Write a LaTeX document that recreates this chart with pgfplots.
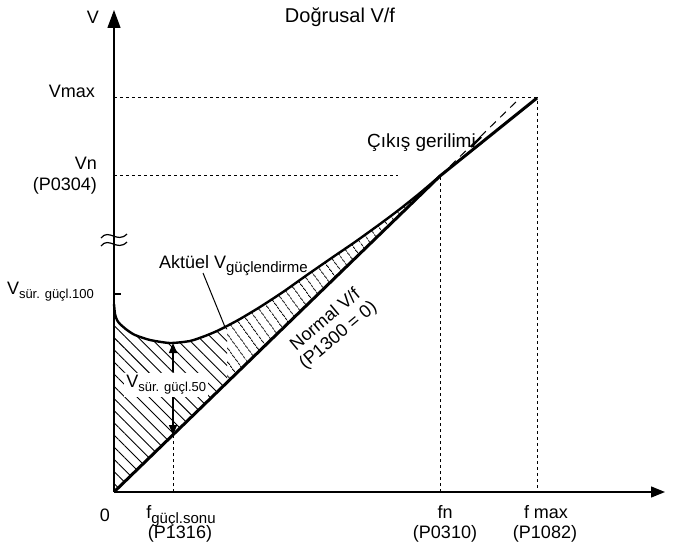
\documentclass[border=0pt]{standalone}
\usepackage{fontspec}
\setmainfont{Liberation Sans}
\usepackage{pgfplots}
\pgfplotsset{compat=1.18}
\usetikzlibrary{arrows.meta,patterns.meta}
\newcommand\sub[1]{\raisebox{-0.45ex}{\fontsize{7.5}{8}\selectfont #1}}
\newcommand\subs[1]{\raisebox{-0.45ex}{\fontsize{6.5}{7}\selectfont #1}}

\begin{document}
\begin{tikzpicture}[font=\fontsize{9}{11}\selectfont]
\begin{axis}[
  x=0.5pt, y=0.5pt,
  xmin=0, xmax=551, ymin=0, ymax=482,
  axis lines=left,
  ticks=none,
  clip=false,
  axis line style={line width=0.65pt},
  every outer x axis line/.append style={-{Triangle[length=7pt,width=5.5pt]}},
  every outer y axis line/.append style={-{Triangle[length=9pt,width=6.5pt]}},
  every inner x axis line/.append style={-{Triangle[length=7pt,width=5.5pt]}},
  every inner y axis line/.append style={-{Triangle[length=9pt,width=6.5pt]}},
]
% hatched area, left part
\addplot[draw=none, forget plot, pattern={Lines[angle=-45,distance=4.3pt,line width=0.45pt]}] coordinates {
 (0,188) (1,178) (3,172) (6,168) (13,162) (21,157) (36,152) (56,149) (76,151) (91,156) (103,161) (113,166) (113,109.5) (0,0)
} -- cycle;
% hatched area, right part
\addplot[draw=none, forget plot, pattern={Lines[angle=-54,distance=4pt,line width=0.45pt]}] coordinates {
 (113,166) (126,173) (146,185) (169,200) (193,217) (219,235) (241,250) (266,268) (286,283) (306,299) (326,316) (113,109.5)
} -- cycle;

% dotted guide lines
\addplot[line width=0.5pt, dash pattern=on 1.5pt off 1.5pt] coordinates {(0,394) (423,394) (423,0)};
\addplot[line width=0.5pt, dash pattern=on 1.5pt off 1.5pt] coordinates {(0,316) (284,316)};
\addplot[line width=0.5pt, dash pattern=on 1.5pt off 1.5pt] coordinates {(326,0) (326,316)};
\addplot[line width=0.5pt, dash pattern=on 1.5pt off 1.5pt] coordinates {(59,0) (59,57)};
% dashed extension of normal V/f
\addplot[line width=0.5pt, dash pattern=on 4pt off 3pt] coordinates {(326,316) (406,394)};

% actual boost curve
\addplot[line width=1.2pt, smooth, tension=0.4] coordinates {
 (0,188) (1,178) (3,172) (6,168) (13,162) (21,157) (36,152) (56,149) (76,151) (91,156) (103,161) (113,166) (126,173) (146,185) (169,200) (193,217) (219,235) (241,250) (266,268) (286,283) (306,299) (326,316)
};
% normal V/f and output voltage
\addplot[line width=1.5pt] coordinates {(0,0) (326,316) (423,394)};

% tick at V100
\addplot[line width=0.65pt] coordinates {(0,198) (7,198)};

% axis break
\draw[line width=0.6pt] (axis cs:-13,246) .. controls (axis cs:-5,256) and (axis cs:3,240) .. (axis cs:13,250);
\draw[line width=0.6pt] (axis cs:-13,254) .. controls (axis cs:-5,264) and (axis cs:3,248) .. (axis cs:13,258);

% V50 arrows and label
\draw[line width=0.6pt, -{Triangle[length=5pt,width=4pt]}] (axis cs:59,120) -- (axis cs:59,149);
\draw[line width=0.6pt, -{Triangle[length=5pt,width=4pt]}] (axis cs:59,95) -- (axis cs:59,57);
\node[anchor=west, fill=white, inner sep=1pt] at (axis cs:10,107) {V\subs{sür. güçl.50}};

% leaders
\draw[line width=0.5pt] (axis cs:89,219) -- (axis cs:111,165);
\draw[line width=1.2pt] (axis cs:357,345) -- (axis cs:367,355);

% texts
\node at (axis cs:-21,475) {V};
\node[font=\fontsize{10}{12}\selectfont] at (axis cs:226,475) {Doğrusal V/f};
\node[anchor=east] at (axis cs:-12,401) {Vmax};
\node[anchor=east] at (axis cs:-10,329) {Vn};
\node[anchor=east] at (axis cs:-10,306) {(P0304)};
\node[anchor=base east] at (axis cs:-13,198) {V\subs{sür. güçl.100}};
\node[anchor=base west] at (axis cs:38,224) {Aktüel V\sub{güçlendirme}};
\node[anchor=base west, font=\fontsize{9.5}{11}\selectfont] at (axis cs:246,344) {Çıkış gerilimi};
\node[rotate=40, align=center] at (axis cs:218,164) {Normal V/f\\[-1pt](P1300 = 0)};
\node at (axis cs:-9,-23) {0};
\node at (axis cs:67,-24) {f\sub{güçl.sonu}};
\node at (axis cs:66,-42) {(P1316)};
\node at (axis cs:331,-20) {fn};
\node at (axis cs:331,-42) {(P0310)};
\node at (axis cs:432,-20) {f max};
\node at (axis cs:431,-42) {(P1082)};
\node[anchor=west] at (axis cs:557,0) {f};

\coordinate (bb1) at (axis cs:-114,-60);
\coordinate (bb2) at (axis cs:564,492);
\end{axis}
\pgfresetboundingbox
\path (bb1) rectangle (bb2);
\end{tikzpicture}
\end{document}
